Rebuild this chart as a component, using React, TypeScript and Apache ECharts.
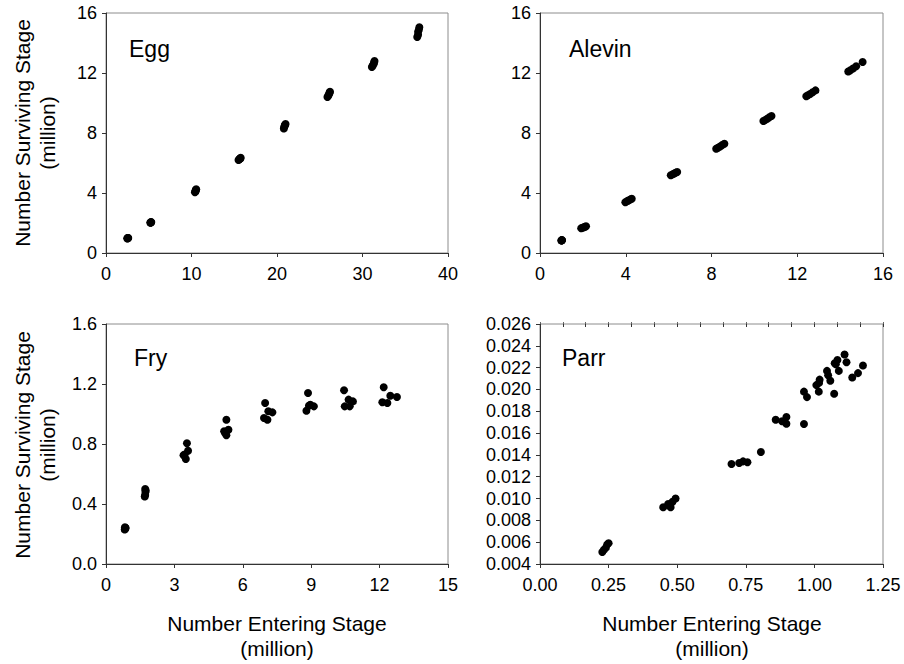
import React, { useEffect, useRef } from "react";
import * as echarts from "echarts";

// ---- Data (millions) ----
const eggX = [2.5, 2.55, 2.5, 2.6, 2.55, 5.2, 5.25, 5.2, 5.3, 5.25, 10.4, 10.5, 10.45, 10.55, 10.5, 15.5, 15.6, 15.7, 15.75, 15.65, 20.8, 20.85, 20.9, 21.0, 20.95, 25.9, 26.0, 26.1, 26.2, 26.15, 31.1, 31.2, 31.3, 31.4, 31.35, 36.4, 36.5, 36.5, 36.6, 36.65];
const eggY = [0.98, 1.0, 0.97, 1.0, 0.99, 2.02, 2.05, 2.03, 2.06, 2.04, 4.05, 4.15, 4.1, 4.25, 4.2, 6.2, 6.25, 6.3, 6.35, 6.28, 8.3, 8.4, 8.5, 8.6, 8.55, 10.4, 10.5, 10.6, 10.75, 10.7, 12.4, 12.5, 12.6, 12.8, 12.7, 14.4, 14.55, 14.75, 14.9, 15.05];

const alevinX = [1.0, 1.02, 1.0, 1.03, 1.01, 1.92, 1.98, 2.05, 2.1, 2.15, 3.98, 4.05, 4.12, 4.2, 4.28, 6.1, 6.18, 6.25, 6.32, 6.4, 8.22, 8.3, 8.4, 8.5, 8.6, 10.42, 10.5, 10.6, 10.7, 10.8, 12.42, 12.5, 12.6, 12.72, 12.85, 14.38, 14.48, 14.6, 14.75, 15.05];
const alevinY = [0.84, 0.85, 0.83, 0.86, 0.84, 1.65, 1.68, 1.72, 1.75, 1.78, 3.38, 3.44, 3.5, 3.56, 3.62, 5.18, 5.24, 5.29, 5.34, 5.4, 6.95, 7.02, 7.1, 7.2, 7.28, 8.8, 8.86, 8.95, 9.05, 9.13, 10.45, 10.52, 10.6, 10.72, 10.84, 12.1, 12.18, 12.3, 12.45, 12.73];

const fryX = [0.82, 0.85, 0.83, 0.84, 0.86, 1.7, 1.72, 1.73, 1.74, 1.72, 3.4, 3.5, 3.55, 3.6, 3.45, 5.28, 5.18, 5.28, 5.37, 5.22, 6.98, 6.93, 7.08, 7.12, 7.3, 8.86, 8.79, 8.96, 9.12, 8.9, 10.44, 10.47, 10.64, 10.69, 10.83, 12.18, 12.12, 12.34, 12.47, 12.76];
const fryY = [0.23, 0.24, 0.245, 0.235, 0.24, 0.45, 0.46, 0.48, 0.49, 0.5, 0.725, 0.7, 0.805, 0.755, 0.73, 0.962, 0.885, 0.858, 0.895, 0.875, 1.073, 0.973, 0.962, 1.018, 1.011, 1.14, 1.022, 1.062, 1.051, 1.055, 1.158, 1.051, 1.096, 1.051, 1.084, 1.178, 1.078, 1.073, 1.122, 1.113];

const parrX = [0.227, 0.233, 0.24, 0.245, 0.25, 0.449, 0.467, 0.476, 0.483, 0.494, 0.698, 0.726, 0.74, 0.756, 0.805, 0.859, 0.882, 0.898, 0.898, 0.962, 0.962, 0.973, 1.007, 1.016, 1.019, 1.017, 1.046, 1.05, 1.058, 1.072, 1.074, 1.084, 1.089, 1.11, 1.117, 1.138, 1.159, 1.177, 1.078];
const parrY = [0.0051, 0.0053, 0.0055, 0.0058, 0.0059, 0.0092, 0.0095, 0.0092, 0.0097, 0.01, 0.01317, 0.01326, 0.01341, 0.01332, 0.01427, 0.01723, 0.01708, 0.01748, 0.01686, 0.01683, 0.0198, 0.0193, 0.0204, 0.0198, 0.0209, 0.0206, 0.0217, 0.0213, 0.0208, 0.0196, 0.0224, 0.0227, 0.0217, 0.0232, 0.0225, 0.0211, 0.0215, 0.0222, 0.0223];

const panelLabels = ["Egg", "Alevin", "Fry", "Parr"];
const yTitle = "Number Surviving Stage\n(million)";
const xTitle = "Number Entering Stage\n(million)";

const FONT = "'Liberation Sans', Arial, sans-serif";
const AXIS_COLOR = "#333";

const zip = (xs: number[], ys: number[]) => xs.map((x, i) => [x, ys[i]]);

function xAxisCfg(grid: number, max: number, interval: number, fmt?: (v: number) => string) {
  return {
    type: "value",
    gridIndex: grid,
    min: 0,
    max,
    interval,
    axisLine: { show: true, onZero: false, lineStyle: { color: AXIS_COLOR, width: 1 } },
    axisTick: { show: true, length: 4, lineStyle: { color: AXIS_COLOR } },
    axisLabel: {
      fontSize: 18,
      color: "#000",
      fontFamily: FONT,
      margin: 12,
      formatter: fmt ? (v: number) => fmt(v) : undefined,
    },
    splitLine: { show: false },
  };
}

function yAxisCfg(grid: number, min: number, max: number, interval: number, fmt?: (v: number) => string) {
  return {
    type: "value",
    gridIndex: grid,
    min,
    max,
    interval,
    axisLine: { show: true, onZero: false, lineStyle: { color: AXIS_COLOR, width: 1 } },
    axisTick: { show: true, length: 4, lineStyle: { color: AXIS_COLOR } },
    axisLabel: {
      fontSize: 18,
      color: "#000",
      fontFamily: FONT,
      margin: 9,
      formatter: fmt ? (v: number) => fmt(v) : undefined,
    },
    splitLine: { show: false },
  };
}

const grids = [
  { left: 106, top: 13, width: 342, height: 240 },
  { left: 540, top: 13, width: 343, height: 240 },
  { left: 106, top: 324, width: 342, height: 240 },
  { left: 540, top: 324, width: 343, height: 240 },
];

export default function App() {
  const ref = useRef<HTMLDivElement>(null);
  useEffect(() => {
    if (!ref.current) return;
    const chart = echarts.init(ref.current, undefined, { renderer: "svg" });
    const scatter = (i: number, data: number[][], xi: number) => ({
      type: "scatter",
      xAxisIndex: xi,
      yAxisIndex: i,
      data,
      symbol: "circle",
      symbolSize: 8,
      itemStyle: { color: "#000", opacity: 1 },
      silent: true,
    });
    const titleStyle = { font: `21px ${FONT}`, fill: "#000", textAlign: "center", textVerticalAlign: "middle", lineHeight: 25 };
    const labelStyle = (t: string) => ({ text: t, font: `23px ${FONT}`, fill: "#000", textVerticalAlign: "middle" });
    chart.setOption({
      animation: false,
      backgroundColor: "#fff",
      grid: grids.map((g) => ({ ...g, show: true, borderColor: "#8c8c8c", borderWidth: 1, backgroundColor: "transparent" })),
      xAxis: [
        xAxisCfg(0, 40, 10),
        xAxisCfg(1, 16, 4),
        xAxisCfg(2, 15, 3),
        xAxisCfg(3, 1.25, 0.25, (v) => v.toFixed(2)),
        // minor ticks (inside) for Parr
        {
          type: "value", gridIndex: 3, min: 0, max: 1.25, interval: 0.25 / 3,
          axisLine: { show: false, onZero: false },
          axisTick: { show: true, inside: true, length: 3, lineStyle: { color: AXIS_COLOR } },
          axisLabel: { show: false }, splitLine: { show: false },
        },
        {
          type: "value", gridIndex: 3, position: "top", min: 0, max: 1.25, interval: 0.25 / 3,
          axisLine: { show: false, onZero: false },
          axisTick: { show: true, length: 2, lineStyle: { color: "#666" } },
          axisLabel: { show: false }, splitLine: { show: false },
        },
      ],
      yAxis: [
        yAxisCfg(0, 0, 16, 4),
        yAxisCfg(1, 0, 16, 4),
        yAxisCfg(2, 0, 1.6, 0.4, (v) => v.toFixed(1)),
        yAxisCfg(3, 0.004, 0.026, 0.002, (v) => v.toFixed(3)),
      ],
      series: [
        scatter(0, zip(eggX, eggY), 0),
        scatter(1, zip(alevinX, alevinY), 1),
        scatter(2, zip(fryX, fryY), 2),
        scatter(3, zip(parrX, parrY), 3),
      ],
      graphic: [
        { type: "text", x: 129, y: 49, style: labelStyle(panelLabels[0]) },
        { type: "text", x: 569, y: 49, style: labelStyle(panelLabels[1]) },
        { type: "text", x: 134, y: 358, style: labelStyle(panelLabels[2]) },
        { type: "text", x: 562, y: 358, style: labelStyle(panelLabels[3]) },
        { type: "text", x: 35, y: 133, rotation: Math.PI / 2, style: { text: yTitle, ...titleStyle } },
        { type: "text", x: 35, y: 445, rotation: Math.PI / 2, style: { text: yTitle, ...titleStyle } },
        { type: "text", x: 277, y: 636, style: { text: xTitle, ...titleStyle } },
        { type: "text", x: 712, y: 636, style: { text: xTitle, ...titleStyle } },
      ],
    });
    return () => chart.dispose();
  }, []);
  return (
    <div
      ref={ref}
      style={{ position: "fixed", left: 0, top: 0, width: 904, height: 664, background: "#fff" }}
    />
  );
}
